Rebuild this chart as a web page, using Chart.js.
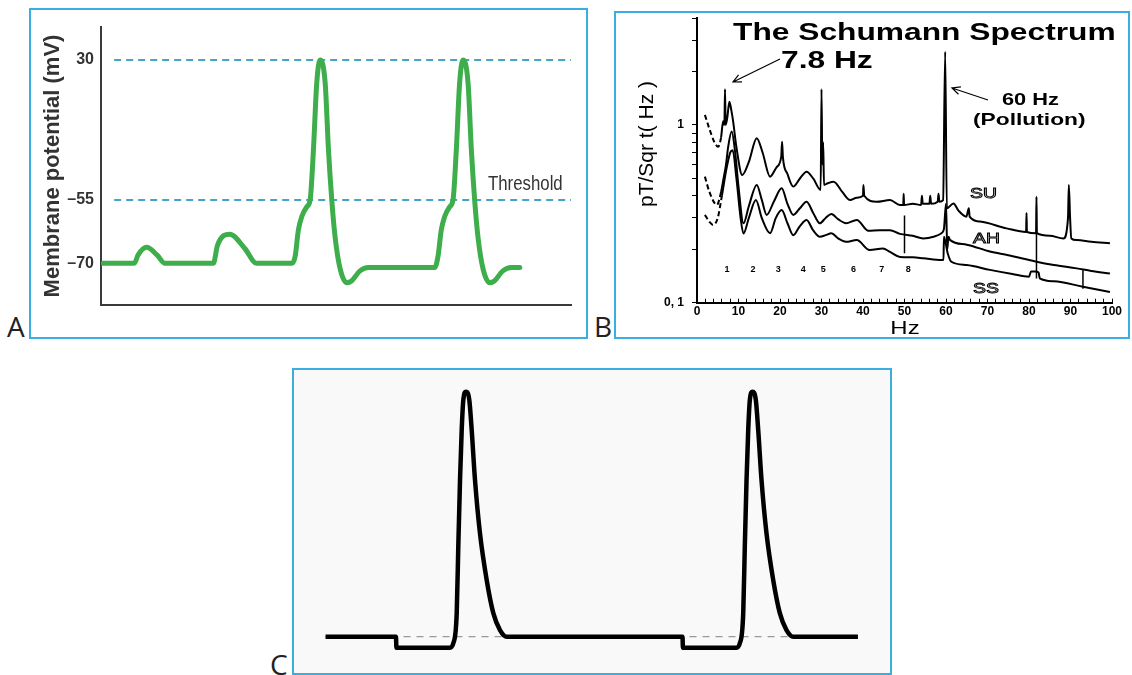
<!DOCTYPE html>
<html>
<head>
<meta charset="utf-8">
<script src="https://cdn.jsdelivr.net/npm/chart.js@4.4.1/dist/chart.umd.min.js"></script>
<style>
  body { margin: 0; width: 1132px; height: 675px; overflow: hidden; position: relative; background: #fff; font-family: 'Open Sans', 'Noto Sans', sans-serif; }
  .box { position: absolute; border: 2px solid #3aaee0; }
  .box canvas { display: block; }
  .tag { position: absolute; font-size: 28px; line-height: 28px; color: #222; }
</style>
</head>
<body>
<div class="box" style="left:29px;top:8px;width:555px;height:327px;"><canvas id="chartA" width="555" height="327"></canvas></div>
<div class="box" style="left:614px;top:11px;width:512px;height:324px;"><canvas id="chartB" width="512" height="324"></canvas></div>
<div class="box" style="left:292px;top:368px;width:596px;height:303px;background:#f9f9f9;"><canvas id="chartC" width="596" height="303"></canvas></div>
<div class="tag" style="left:7px;top:312px;">A</div>
<div class="tag" style="left:594px;top:312px;">B</div>
<div class="tag" style="left:270px;top:650px;">C</div>

<script>
// ---------- Panel A: action potential (mV over time) ----------
const timeA = [0.4, 7.1, 7.9, 9.7, 11.9, 13.6, 23.9, 24.8, 27.4, 30.6, 33.1,
  40.6, 41.3, 42.0, 42.7, 43.8, 44.5, 45.2, 45.9, 46.6, 47.7, 48.4, 49.1, 49.8, 50.9, 52.3, 53.3, 55.1, 56.9, 59.4,
  71.0, 71.7, 72.4, 73.1, 74.2, 74.9, 75.6, 76.3, 77.0, 78.1, 78.8, 79.5, 80.2, 81.3, 82.7, 83.7, 85.5, 87.3, 89.1];
const potentialA = [-70, -70, -68, -66.2, -68, -70, -70, -65.7, -63.1, -66.5, -70,
  -70, -68.4, -62.1, -59, -56.6, -55, -24.6, 15.9, 30, 15.9, -24.6, -55, -63.7, -71.4, -74.6, -74.2, -71.8, -71, -71,
  -71, -68.4, -62.1, -59, -56.6, -55, -24.6, 15.9, 30, 15.9, -24.6, -55, -63.7, -71.4, -74.6, -74.2, -71.8, -71, -71];
const peakA = 30;
const thresholdA = -55;
const refLineA = [2.8, 100];
const tickValuesA = [-70, -55, 30];
const tickLabelsA = ['\u201370', '\u201355', '30'];

// ---------- Panel B: Schumann spectrum (pT/sqrt(Hz) over Hz) ----------
const hzSU = [1.9, 3.0, 4.2, 5.1, 5.8, 6.3, 6.6, 6.75, 6.9, 7.3, 7.8, 8.3, 8.7, 9.5, 10.9, 12.5, 14.4, 15.8, 17.6, 19.2,
  20.3, 20.5, 20.7, 21.8, 23.2, 24.8, 26.4, 28.0, 29.8, 30.0, 30.2, 30.4, 30.6, 31.5, 32.9, 35.0, 36.9, 38.5, 40.0, 40.1,
  40.3, 43.3, 46.5, 48.9, 49.7, 49.8, 49.9, 52.0, 54.0, 54.2, 54.4, 56.0, 56.2, 56.4, 58.0, 58.2, 58.4, 59.3, 59.8, 60.2,
  61.8, 63.0, 64.9, 65.5, 65.7, 68.2, 74.6, 79.3, 79.4, 79.5, 81.7, 81.8, 81.9, 85.0, 88.3, 89.4, 89.6, 89.9, 90.2, 91.5,
  95.0, 99.5];
const valSU = [1.14, 0.95, 0.80, 0.755, 0.85, 1.05, 1.0, 1.59, 1.0, 1.1, 1.35, 1.2, 1.05, 0.75, 0.523, 0.62, 0.842, 0.7, 0.512, 0.58,
  0.663, 0.805, 0.66, 0.53, 0.45, 0.5, 0.546, 0.5, 0.431, 1.59, 0.6, 0.8, 0.46, 0.47, 0.48, 0.42, 0.378, 0.39, 0.40, 0.46,
  0.40, 0.37, 0.378, 0.355, 0.355, 0.41, 0.355, 0.36, 0.355, 0.40, 0.36, 0.36, 0.40, 0.36, 0.37, 0.41, 0.37, 0.378, 2.58, 0.34,
  0.362, 0.33, 0.305, 0.34, 0.305, 0.286, 0.262, 0.25, 0.32, 0.25, 0.246, 0.395, 0.246, 0.238, 0.23, 0.3, 0.46, 0.3, 0.23, 0.225,
  0.22, 0.216];
const hzAH = [1.9, 3.0, 4.8, 5.8, 6.4, 7.0, 7.5, 8.35, 9.2, 10.0, 11.2, 12.5, 14.4, 15.6, 16.8, 18.5, 20.4, 21.8, 23.2, 24.8,
  26.4, 28.0, 29.6, 31.0, 32.4, 34.0, 35.9, 38.5, 41.3, 44.0, 46.5, 48.9, 52.0, 54.5, 57.0, 58.9, 59.5, 60.0, 60.3, 60.6,
  61.0, 65.0, 70.6, 75.0, 81.8, 86.0, 91.5, 95.0, 99.5];
const valAH = [0.512, 0.42, 0.355, 0.42, 0.5, 0.6, 0.75, 0.92, 0.7, 0.45, 0.28, 0.35, 0.46, 0.38, 0.312, 0.37, 0.44, 0.36, 0.312, 0.34,
  0.37, 0.32, 0.28, 0.3, 0.316, 0.295, 0.28, 0.292, 0.254, 0.256, 0.256, 0.244, 0.238, 0.23, 0.235, 0.246, 0.26, 0.36, 0.2, 0.235,
  0.225, 0.212, 0.194, 0.185, 0.17, 0.163, 0.156, 0.151, 0.146];
const hzSS = [1.9, 3.0, 3.9, 5.0, 6.0, 7.0, 8.0, 8.6, 9.5, 10.5, 11.2, 12.5, 14.2, 15.6, 17.6, 19.0, 20.4, 21.8, 23.2, 24.8,
  26.4, 28.0, 29.6, 31.0, 32.4, 34.0, 35.9, 38.5, 41.6, 44.8, 46.5, 48.9, 52.0, 54.5, 58.9, 59.4, 59.5, 60.4, 61.3, 65.0,
  70.6, 76.0, 80.0, 80.5, 81.5, 82.3, 82.6, 86.0, 93.0, 99.5];
const valSS = [0.312, 0.285, 0.274, 0.3, 0.4, 0.55, 0.7, 0.72, 0.5, 0.3, 0.245, 0.3, 0.378, 0.3, 0.246, 0.3, 0.332, 0.28, 0.24, 0.27,
  0.292, 0.255, 0.235, 0.24, 0.246, 0.23, 0.22, 0.225, 0.198, 0.202, 0.193, 0.181, 0.18, 0.178, 0.174, 0.174, 0.235, 0.19, 0.17, 0.163,
  0.153, 0.145, 0.14, 0.15, 0.15, 0.148, 0.137, 0.132, 0.123, 0.115];
// vertical marker strokes
const markHz = [50, 81.8, 93.0];
const markTop = [0.31, 0.246, 0.153];
const markBottom = [0.19, 0.137, 0.12];
// harmonic numbers under the curves
const harmonicHz = [7.2, 13.5, 19.6, 25.6, 30.4, 37.7, 44.5, 50.9];
const harmonicLabels = ['1', '2', '3', '4', '5', '6', '7', '8'];
const harmonicLevel = 0.153;
const hzTickLabels = [0, 10, 20, 30, 40, 50, 60, 70, 80, 90, 100];
const yTickValsB = [0.1, 0.2, 0.3, 0.4, 0.5, 0.6, 0.7, 0.8, 0.9, 1, 2, 3, 4];

// ---------- Panel C: stimulus + spikes ----------
const timeC = [4.4, 16.55, 16.62, 25.86, 26.43, 27.02, 27.29, 27.59, 27.88, 28.16,
  28.62, 29.19, 29.6, 30.17, 31.03, 32.19, 33.33, 34.48, 35.64, 65.95,
  66.02, 75.26, 75.83, 76.42, 76.69, 76.99, 77.28, 77.56, 78.02, 78.59,
  79.0, 79.57, 80.43, 81.59, 82.73, 83.88, 85.04, 96.2];
const voltC = [-70, -70, -74.5, -74.5, -72.7, -60.4, -33.3, -6, 14.4, 26.6,
  30, 26.6, 14.4, -6, -27.8, -46.9, -60.4, -67.3, -70, -70,
  -74.5, -74.5, -72.7, -60.4, -33.3, -6, 14.4, 26.6, 30, 26.6,
  14.4, -6, -27.8, -46.9, -60.4, -67.3, -70, -70];
const restC = -70;

// ---------- helpers ----------
const sans = "'Liberation Sans', Arial, sans-serif";
Chart.defaults.font.family = sans;
Chart.defaults.color = '#000';

const pts = (xs, ys) => xs.map((x, i) => ({ x: x, y: ys[i] }));

// fixed axis box, no extra label padding (keeps the plot area where the picture has it)
const fixBox = (w, h) => s => {
  if (w !== null) s.width = w;
  if (h !== null) s.height = h;
  s.paddingTop = 0; s.paddingBottom = 0; s.paddingLeft = 0; s.paddingRight = 0;
};

// schematic y axis of panel A: the gap -70..-55 is drawn stretched
const breaksA = [-79.9, -70, -55, 30, 50];
const fracsA = [0, 0.15, 0.378, 0.881, 1];
function interp(v, xs, ys) {
  let i = 1;
  while (i < xs.length - 1 && v > xs[i]) i++;
  const t = (v - xs[i - 1]) / (xs[i] - xs[i - 1]);
  return ys[i - 1] + t * (ys[i] - ys[i - 1]);
}
class SchematicScale extends Chart.LinearScale {
  getPixelForValue(v) {
    return v === null ? NaN : this.getPixelForDecimal(interp(v, breaksA, fracsA));
  }
  getValueForPixel(p) {
    return interp(this.getDecimalForPixel(p), fracsA, breaksA);
  }
}
SchematicScale.id = 'schematic';
SchematicScale.defaults = Chart.LinearScale.defaults;
Chart.register(SchematicScale);

// free text drawn on top of a chart; items with dataX/dataY are placed through the scales
function textLayer(id, items) {
  return {
    id: id,
    afterDraw(chart) {
      const ctx = chart.ctx;
      items.forEach(t => {
        let x = t.x, y = t.y;
        if (t.dataX !== undefined) {
          x = chart.scales.x.getPixelForValue(t.dataX);
          y = chart.scales.y.getPixelForValue(t.dataY);
        }
        ctx.save();
        ctx.translate(x, y);
        if (t.rotate) ctx.rotate(t.rotate);
        ctx.scale(t.sx || 1, 1);
        ctx.font = t.font;
        ctx.textAlign = t.align || 'left';
        ctx.textBaseline = t.baseline || 'alphabetic';
        if (t.stroke) {
          ctx.strokeStyle = t.color || '#000';
          ctx.lineWidth = t.stroke;
          ctx.strokeText(t.text, 0, 0);
        } else {
          ctx.fillStyle = t.color || '#000';
          ctx.fillText(t.text, 0, 0);
        }
        ctx.restore();
      });
    }
  };
}

function arrowLayer(arrows) {
  return {
    id: 'arrows',
    afterDraw(chart) {
      const ctx = chart.ctx;
      ctx.save();
      ctx.strokeStyle = '#000';
      ctx.lineWidth = 1.2;
      arrows.forEach(a => {
        const [x1, y1] = a.from, [x2, y2] = a.to;
        const ang = Math.atan2(y2 - y1, x2 - x1);
        ctx.beginPath();
        ctx.moveTo(x1, y1);
        ctx.lineTo(x2, y2);
        ctx.moveTo(x2 - 9 * Math.cos(ang - 0.45), y2 - 9 * Math.sin(ang - 0.45));
        ctx.lineTo(x2, y2);
        ctx.lineTo(x2 - 9 * Math.cos(ang + 0.45), y2 - 9 * Math.sin(ang + 0.45));
        ctx.stroke();
      });
      ctx.restore();
    }
  };
}

const common = {
  responsive: false,
  animation: false,
  events: [],
  plugins: { legend: { display: false }, tooltip: { enabled: false } }
};

// ---------- chart A ----------
new Chart(document.getElementById('chartA'), {
  type: 'line',
  data: {
    datasets: [
      { data: pts(timeA, potentialA), borderColor: '#3dae4b', borderWidth: 5, cubicInterpolationMode: 'monotone',
        pointRadius: 0, borderCapStyle: 'round', borderJoinStyle: 'round' },
      { data: pts(refLineA, [peakA, peakA]), borderColor: '#45a5c8', borderWidth: 2, borderDash: [7, 5], pointRadius: 0 },
      { data: pts(refLineA, [thresholdA, thresholdA]), borderColor: '#45a5c8', borderWidth: 2, borderDash: [7, 5], pointRadius: 0 }
    ]
  },
  options: {
    ...common,
    layout: { padding: { top: 17, right: 15, left: 0, bottom: 0 } },
    scales: {
      x: {
        type: 'linear', min: 0, max: 100,
        grid: { display: false, drawTicks: false },
        ticks: { display: false },
        border: { color: '#3a3a3a', width: 2 },
        afterFit: fixBox(null, 32)
      },
      y: {
        type: 'schematic', min: -79.9, max: 50,
        afterBuildTicks: s => { s.ticks = tickValuesA.map(v => ({ value: v })); },
        grid: { display: false, drawTicks: false },
        border: { color: '#3a3a3a', width: 2 },
        ticks: {
          padding: 7, color: '#333',
          font: { size: 16, weight: 'bold' },
          callback: v => tickLabelsA[tickValuesA.indexOf(v)]
        },
        title: {
          display: true, text: 'Membrane potential (mV)', color: '#333',
          font: { size: 22, weight: 'bold' }, padding: { top: 9, bottom: 0 }
        },
        afterFit: fixBox(70, null)
      }
    }
  },
  plugins: [textLayer('textA', [
    { text: 'Threshold', x: 457, y: 180, font: '20px ' + sans, color: '#333', sx: 0.84 }
  ])]
});

// ---------- chart B ----------
const spectrumLine = (xs, ys) => ({
  data: pts(xs, ys), borderColor: '#000', borderWidth: 2, pointRadius: 0,
  cubicInterpolationMode: 'monotone',
  segment: { borderDash: c => c.p1.parsed.x <= 6 ? [5, 3] : undefined }
});
const marks = markHz.flatMap((h, i) => [{ x: h, y: markTop[i] }, { x: h, y: markBottom[i] }, { x: h, y: null }]);

new Chart(document.getElementById('chartB'), {
  type: 'line',
  data: {
    datasets: [
      spectrumLine(hzSU, valSU),
      spectrumLine(hzAH, valAH),
      spectrumLine(hzSS, valSS),
      { data: marks, borderColor: '#000', borderWidth: 1.5, pointRadius: 0, spanGaps: false }
    ]
  },
  options: {
    ...common,
    layout: { padding: { top: 5, right: 16, left: 0, bottom: 0 } },
    scales: {
      x: {
        type: 'linear', min: 0, max: 100,
        grid: { drawOnChartArea: false, tickLength: -4, color: '#000', lineWidth: 1 },
        border: { color: '#000', width: 2 },
        ticks: {
          stepSize: 2, autoSkip: false, maxRotation: 0, padding: 6,
          font: { size: 12, weight: 'bold' },
          callback: v => hzTickLabels.includes(v) ? String(v) : ''
        },
        afterFit: fixBox(null, 34.3)
      },
      y: {
        type: 'logarithmic', min: 0.1, max: 4,
        afterBuildTicks: s => { s.ticks = yTickValsB.map(v => ({ value: v })); },
        grid: { drawOnChartArea: false, tickLength: 5, color: '#000', lineWidth: 1 },
        border: { color: '#000', width: 2 },
        ticks: {
          autoSkip: false, padding: 8,
          font: { size: 12, weight: 'bold' },
          callback: v => v === 1 ? '1' : (v === 0.1 ? '0, 1' : '')
        },
        afterFit: fixBox(81, null)
      }
    }
  },
  plugins: [
    textLayer('textB', [
      { text: 'The Schumann Spectrum', x: 117, y: 27, font: 'bold 23px ' + sans, sx: 1.38 },
      { text: '7.8 Hz', x: 165, y: 55, font: 'bold 23px ' + sans, sx: 1.38 },
      { text: '60 Hz', x: 386, y: 92, font: 'bold 16.5px ' + sans, sx: 1.32 },
      { text: '(Pollution)', x: 357, y: 112, font: 'bold 16.5px ' + sans, sx: 1.38 },
      { text: 'SU', x: 354, y: 185, font: '14px ' + sans, sx: 1.38, stroke: 0.9 },
      { text: 'AH', x: 357, y: 230, font: '14px ' + sans, sx: 1.38, stroke: 0.9 },
      { text: 'SS', x: 357, y: 280, font: '14px ' + sans, sx: 1.38, stroke: 0.9 },
      { text: 'Hz', x: 289, y: 321, font: '18px ' + sans, sx: 1.33, align: 'center' },
      { text: 'pT/Sqr t( Hz )', x: 31, y: 131, font: '21px ' + sans, align: 'center', baseline: 'middle', rotate: -Math.PI / 2 }
    ].concat(harmonicHz.map((h, i) => ({
      text: harmonicLabels[i], dataX: h, dataY: harmonicLevel, font: 'bold 9px ' + sans, align: 'center', baseline: 'middle'
    })))),
    arrowLayer([
      { from: [164, 46], to: [117, 69] },
      { from: [372, 87], to: [336, 75] }
    ])
  ]
});

// ---------- chart C ----------
new Chart(document.getElementById('chartC'), {
  type: 'line',
  data: {
    datasets: [
      { data: pts(timeC, voltC), borderColor: '#000', borderWidth: 4.5, cubicInterpolationMode: 'monotone',
        pointRadius: 0, borderJoinStyle: 'round' },
      { data: pts([timeC[0], timeC[timeC.length - 1]], [restC, restC]), borderColor: '#9a9a9a', borderWidth: 1.2,
        borderDash: [7, 6], pointRadius: 0 }
    ]
  },
  options: {
    ...common,
    layout: { padding: { top: 5, right: 10, left: 6, bottom: 8 } },
    scales: {
      x: { type: 'linear', min: 0, max: 100, display: false },
      y: { type: 'linear', min: -81.55, max: 36.8, display: false }
    }
  }
});
</script>
</body>
</html>
